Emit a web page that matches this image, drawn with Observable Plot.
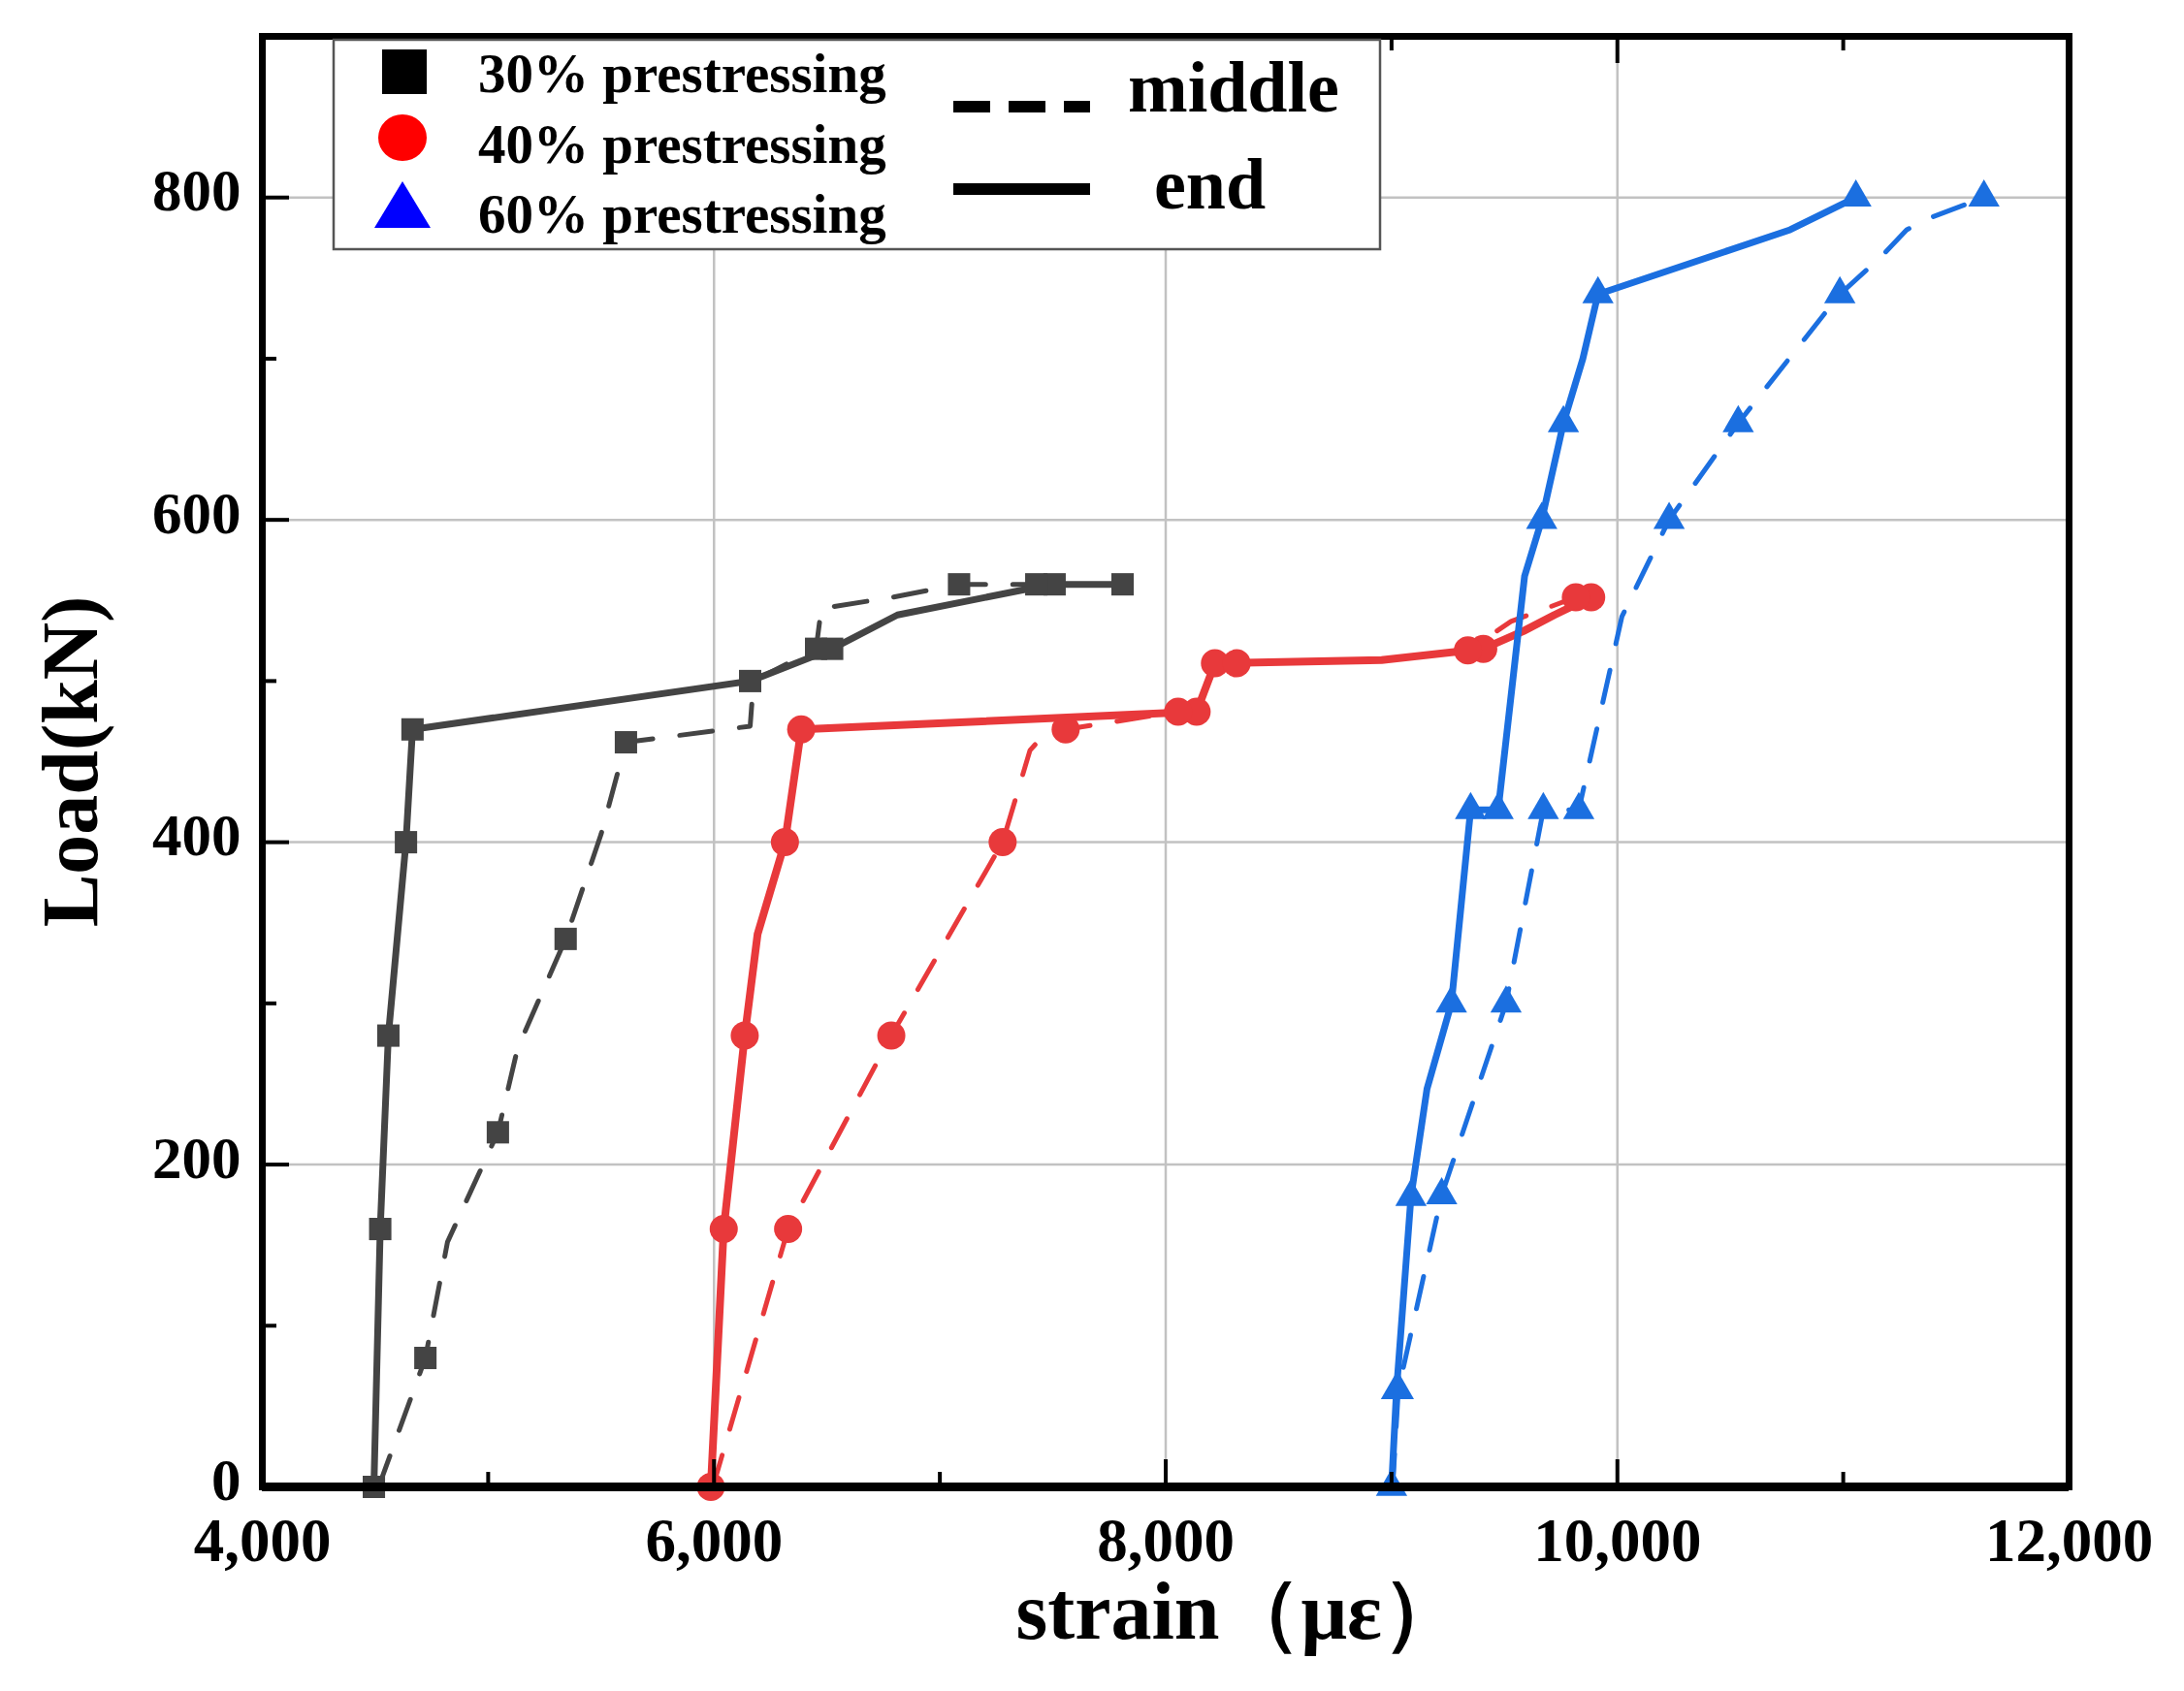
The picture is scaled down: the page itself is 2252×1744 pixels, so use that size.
<!DOCTYPE html>
<html>
<head>
<meta charset="utf-8">
<script src="https://cdn.jsdelivr.net/npm/d3@7"></script>
<script src="https://cdn.jsdelivr.net/npm/@observablehq/plot@0.6"></script>
<style>
  html, body { margin: 0; padding: 0; background: #fff; }
</style>
</head>
<body>
<div id="chart"></div>
<script>
// ---------- data ----------
const xTicks = [4000, 6000, 8000, 10000, 12000];
const xMinor = [5000, 7000, 9000, 11000];
const yTicks = [0, 200, 400, 600, 800];
const yMinor = [100, 300, 500, 700];
const gridX = [6000, 8000, 10000];
const gridY = [200, 400, 600, 800];

const seriesNames = ["30% prestressing", "40% prestressing", "60% prestressing"];
const positionNames = ["middle", "end"];
const xTitle = "strain（με）";
const yTitle = "Load(kN)";

// [strain, load, hasMarker]
const black_end = [[4494,0,1],[4522,160,1],[4558,280,1],[4636,400,1],[4665,470,1],[6160,500,1],[6523,520,1],[6812,541,0],[7420,558,0],[7508,560,1],[7809,560,1]];
const black_mid = [[4515,0,0],[4722,80,1],[4820,152,0],[5043,220,1],[5130,272,0],[5343,340,1],[5500,405,0],[5610,462,1],[6160,472,0],[6175,500,0],[6452,520,1],[6475,545,0],[6790,552,0],[7085,560,1],[7427,560,1]];
const red_end = [[5986,0,1],[6043,160,1],[6136,280,1],[6193,343,0],[6314,400,1],[6386,470,1],[8137,481,1],[8218,511,1],[8956,513,0],[9406,520,1],[9584,531,0],[9721,541,0],[9884,552,1]];
const red_mid = [[5995,0,0],[6328,160,1],[6785,280,1],[7278,400,1],[7399,457,0],[7457,466,0],[7557,470,1],[8055,481,1],[8137,481,0],[8218,511,0],[8314,511,1],[8956,513,0],[9338,519,1],[9529,537,0],[9816,552,1]];
const blue_end = [[9000,0,1],[9022,60,1],[9086,180,1],[9157,247,0],[9265,300,1],[9350,420,1],[9472,420,1],[9589,565,0],[9665,600,1],[9761,660,1],[9847,700,0],[9914,740,1],[10765,780,0],[11056,800,1]];
const blue_mid = [[9005,0,0],[9030,60,1],[9222,181,1],[9507,300,1],[9672,420,1],[9829,420,1],[10020,540,0],[10229,600,1],[10535,660,1],[10985,740,1],[11166,763,0],[11281,780,0],[11396,788,0],[11623,800,1]];

// ---------- styles ----------
const W = 2252, H = 1744;
const mL = 270, mR = 119, mT = 37, mB = 211;
const FW = W - mL - mR, FH = H - mT - mB;
const lineColors = ["#444444", "#e8393b", "#1b6fe0"];
const legendColors = ["#000000", "#ff0000", "#0000ff"];
const symbols = ["square", "circle", "triangle"];
const radii = [13, 14.5, 12];
const solidWidths = [7, 8, 7];
const font = "'Liberation Serif', 'Times New Roman', serif";

const groups = [
  {s: 0, p: 1, pts: black_end}, {s: 0, p: 0, pts: black_mid},
  {s: 1, p: 1, pts: red_end},   {s: 1, p: 0, pts: red_mid},
  {s: 2, p: 1, pts: blue_end},  {s: 2, p: 0, pts: blue_mid}
];
const rows = g => g.pts.map(([x, y, m]) => ({x, y, m, series: seriesNames[g.s], pos: positionNames[g.p]}));

const marks = [];
marks.push(Plot.ruleX(gridX, {x: d => d, stroke: "#c2c2c2", strokeWidth: 2.5}));
marks.push(Plot.ruleY(gridY, {y: d => d, stroke: "#c2c2c2", strokeWidth: 2.5}));

// dashed (middle) lines first, then solid (end)
for (const g of groups.filter(g => g.p === 0)) {
  marks.push(Plot.line(rows(g), {x: "x", y: "y", stroke: lineColors[g.s], strokeWidth: 5,
    strokeDasharray: "34,28", strokeLinejoin: "round"}));
}
for (const g of groups.filter(g => g.p === 1)) {
  marks.push(Plot.line(rows(g), {x: "x", y: "y", stroke: lineColors[g.s], strokeWidth: solidWidths[g.s],
    strokeLinejoin: "round"}));
}
for (const g of groups) {
  marks.push(Plot.dot(rows(g).filter(d => d.m), {x: "x", y: "y", symbol: symbols[g.s], r: radii[g.s],
    fill: lineColors[g.s], stroke: "none"}));
}

// inward ticks
marks.push(Plot.tickX(xTicks, {x: d => d, insetTop: FH - 28, stroke: "black", strokeWidth: 4}));
marks.push(Plot.tickX(xMinor, {x: d => d, insetTop: FH - 15, stroke: "black", strokeWidth: 4}));
marks.push(Plot.tickX(xTicks, {x: d => d, insetBottom: FH - 28, stroke: "black", strokeWidth: 4}));
marks.push(Plot.tickX(xMinor, {x: d => d, insetBottom: FH - 15, stroke: "black", strokeWidth: 4}));
marks.push(Plot.tickY(yTicks, {y: d => d, insetRight: FW - 28, stroke: "black", strokeWidth: 4}));
marks.push(Plot.tickY(yMinor, {y: d => d, insetRight: FW - 15, stroke: "black", strokeWidth: 4}));

marks.push(Plot.frame({stroke: "black", strokeWidth: 7}));
marks.push(Plot.ruleY([0], {y: d => d, stroke: "black", strokeWidth: 9}));

marks.push(Plot.axisX(xTicks, {tickSize: 0, tickPadding: 32, tickFormat: d3.format(","),
  fontSize: 63, fontWeight: "bold", label: null}));
marks.push(Plot.axisY(yTicks, {tickSize: 0, tickPadding: 22, fontSize: 61, fontWeight: "bold",
  label: null, dy: -6}));

marks.push(Plot.text([yTitle], {text: d => d, frameAnchor: "left", textAnchor: "middle", dx: -197, rotate: -90,
  fontSize: 82, fontWeight: "bold", fill: "black"}));
marks.push(Plot.text([xTitle], {text: d => d, frameAnchor: "bottom-left", textAnchor: "start",
  dx: 777, dy: 156, fontSize: 84, fontWeight: "bold", fill: "black"}));

const chart = Plot.plot({
  width: W, height: H,
  marginLeft: mL, marginRight: mR, marginTop: mT, marginBottom: mB,
  x: {domain: [4000, 12000]},
  y: {domain: [0, 900]},
  style: {fontFamily: font, background: "#fff", color: "black", overflow: "visible"},
  marks
});
document.getElementById("chart").appendChild(chart);

// ---------- legend ----------
const svg = d3.select(chart);
const lg = svg.append("g").attr("font-family", font).attr("font-weight", "bold").attr("text-anchor", "start");
lg.append("rect").attr("x", 344).attr("y", 41).attr("width", 1079).attr("height", 216)
  .attr("fill", "#fff").attr("stroke", "#555").attr("stroke-width", 2.5);

const symY = [74, 142, 211];
const txtY = [95, 168, 240];
// square
lg.append("rect").attr("x", 417 - 23).attr("y", symY[0] - 23).attr("width", 46).attr("height", 46)
  .attr("fill", legendColors[0]);
// circle
lg.append("ellipse").attr("cx", 415).attr("cy", symY[1]).attr("rx", 25).attr("ry", 24)
  .attr("fill", legendColors[1]);
// triangle
lg.append("path").attr("d", `M415,${symY[2] - 24}L386,${symY[2] + 24}L444,${symY[2] + 24}Z`)
  .attr("fill", legendColors[2]);
seriesNames.forEach((name, i) => {
  lg.append("text").attr("x", 493).attr("y", txtY[i]).attr("font-size", 57).attr("fill", "#000").text(name);
});
lg.append("line").attr("x1", 983).attr("x2", 1124).attr("y1", 110).attr("y2", 110)
  .attr("stroke", "#000").attr("stroke-width", 12).attr("stroke-dasharray", "38,19");
lg.append("line").attr("x1", 983).attr("x2", 1124).attr("y1", 195).attr("y2", 195)
  .attr("stroke", "#000").attr("stroke-width", 12);
lg.append("text").attr("x", 1163).attr("y", 115).attr("font-size", 74).attr("fill", "#000").text(positionNames[0]);
lg.append("text").attr("x", 1190).attr("y", 215).attr("font-size", 74).attr("fill", "#000").text(positionNames[1]);
</script>
</body>
</html>
